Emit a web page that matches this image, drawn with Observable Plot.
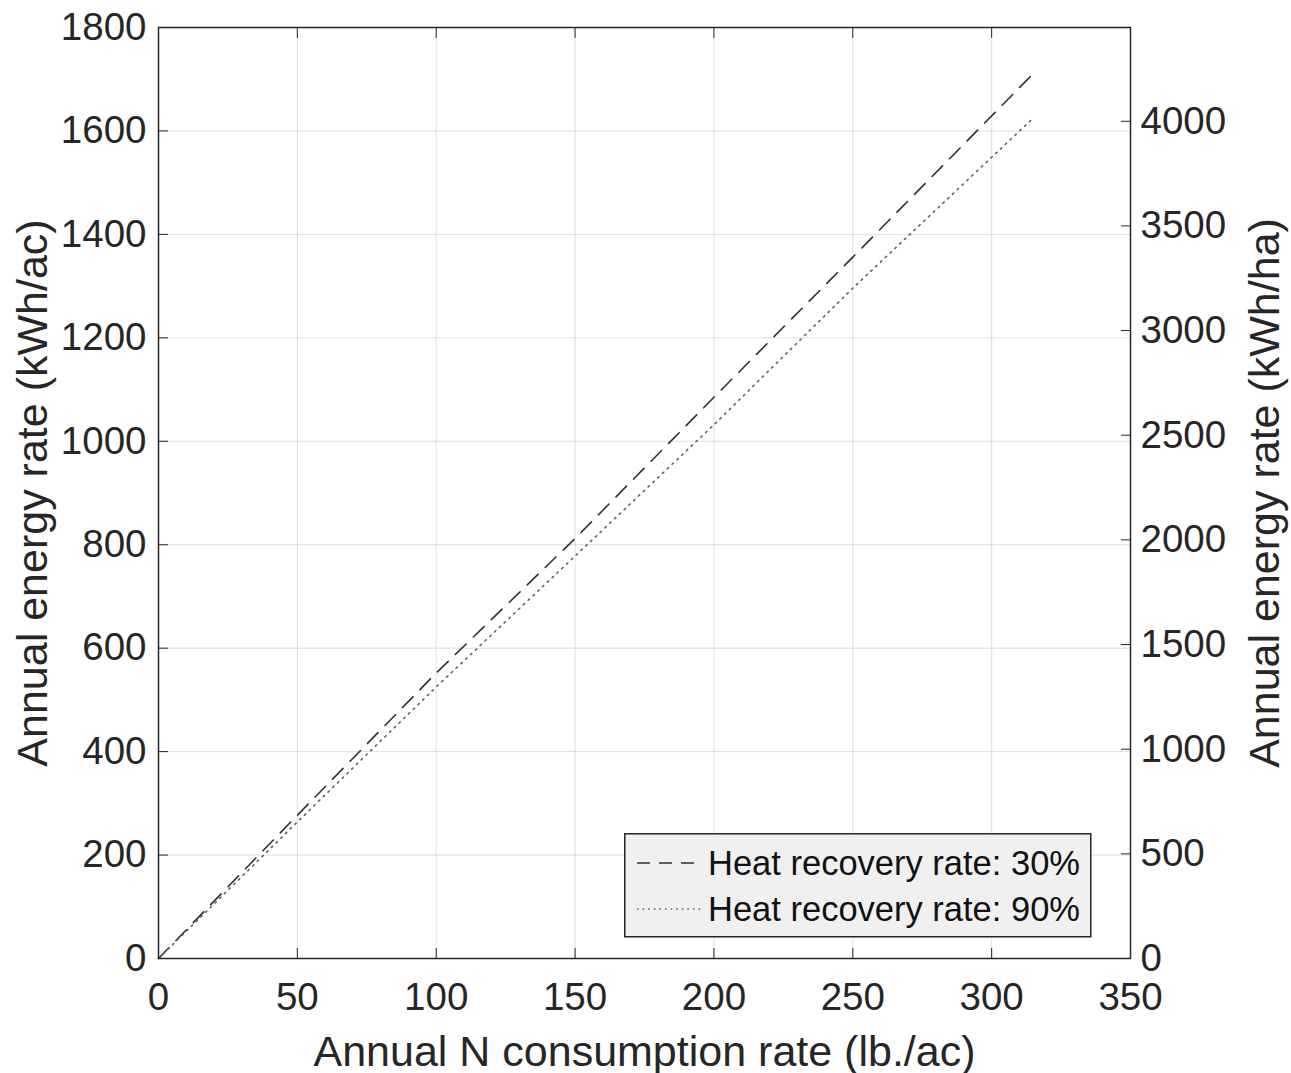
<!DOCTYPE html>
<html><head><meta charset="utf-8">
<script src="https://cdn.jsdelivr.net/npm/d3@7"></script>
<script src="https://cdn.jsdelivr.net/npm/@observablehq/plot@0.6"></script>
<style>
body{margin:0;background:#fff;}
#wrap{position:relative;width:1291px;height:1073px;}
#legend{position:absolute;left:624px;top:833px;}
</style></head><body><div id="wrap"></div>
<script>
// Data
const nRate    = [0, 50, 100, 150, 200, 250, 315];          // lb./ac
const energy30 = [0, 277, 552, 812, 1085, 1356, 1711];      // kWh/ac, heat recovery 30%
const energy90 = [0, 264, 525, 778, 1032, 1296, 1625];      // kWh/ac, heat recovery 90%
const seriesNames = ["Heat recovery rate: 30%", "Heat recovery rate: 90%"];
const xTicks = [0, 50, 100, 150, 200, 250, 300, 350];
const yTicksLeft = [0, 200, 400, 600, 800, 1000, 1200, 1400, 1600, 1800];
const yTicksRight = [0, 500, 1000, 1500, 2000, 2500, 3000, 3500, 4000];
const haPerAc = 2.4711; // kWh/ac -> kWh/ha

const data30 = nRate.map((x, i) => ({x, y: energy30[i]}));
const data90 = nRate.map((x, i) => ({x, y: energy90[i]}));

const ink = "#262626";
const font = "'Liberation Sans', Arial, Helvetica, sans-serif";

const chart = Plot.plot({
  width: 1291,
  height: 1073,
  marginLeft: 158,
  marginRight: 161,
  marginTop: 27,
  marginBottom: 115,
  style: {fontFamily: font, fontSize: "38.5px", color: ink, background: "#fff"},
  x: {domain: [0, 350]},
  y: {domain: [0, 1800]},
  marks: [
    Plot.gridX(xTicks, {stroke: ink, strokeOpacity: 0.15, strokeWidth: 1}),
    Plot.gridY(yTicksLeft, {stroke: ink, strokeOpacity: 0.15, strokeWidth: 1}),
    Plot.line(data30, {x: "x", y: "y", stroke: "#303030", strokeWidth: 1.6, strokeDasharray: "15,10"}),
    Plot.line(data90, {x: "x", y: "y", stroke: "#606060", strokeWidth: 1.6, strokeDasharray: "1.6,5"}),
    Plot.frame({stroke: ink, strokeWidth: 1.5}),
    Plot.axisX(xTicks, {anchor: "bottom", tickSize: -10, tickPadding: 34, stroke: ink, fill: ink,
      tickFormat: d => String(d), label: null}),
    Plot.axisX({anchor: "bottom", ticks: [], tickSize: 0, fontSize: 43, fill: ink,
      label: "Annual N consumption rate (lb./ac)", labelAnchor: "center", labelOffset: 107, labelArrow: "none"}),
    Plot.axisX(xTicks, {anchor: "top", tickSize: -10, tickFormat: () => "", stroke: ink, label: null}),
    Plot.axisY(yTicksLeft, {anchor: "left", tickSize: -10, tickPadding: 22, stroke: ink, fill: ink,
      tickFormat: d => String(d), label: null}),
    Plot.axisY({anchor: "left", ticks: [], tickSize: 0, fontSize: 43, fill: ink,
      label: "Annual energy rate (kWh/ac)", labelAnchor: "center", labelOffset: 142, labelArrow: "none"}),
    Plot.axisY(yTicksRight.map(v => v / haPerAc), {anchor: "right", tickSize: -10, tickPadding: 20,
      tickFormat: d => String(Math.round(d * haPerAc)), stroke: ink, fill: ink, label: null}),
    Plot.axisY({anchor: "right", ticks: [], tickSize: 0, fontSize: 43, fill: ink,
      label: "Annual energy rate (kWh/ha)", labelAnchor: "center", labelOffset: 148, labelArrow: "none"})
  ]
});
const wrap = document.getElementById("wrap");
wrap.appendChild(chart);

// Legend (inside the axes, lower right)
const ns = "http://www.w3.org/2000/svg";
const lg = document.createElementNS(ns, "svg");
lg.setAttribute("id", "legend");
lg.setAttribute("width", 468);
lg.setAttribute("height", 105);
lg.style.fontFamily = font;
const box = document.createElementNS(ns, "rect");
box.setAttribute("x", 0.75); box.setAttribute("y", 0.75);
box.setAttribute("width", 466); box.setAttribute("height", 103);
box.setAttribute("fill", "#f0f0f0"); box.setAttribute("stroke", ink); box.setAttribute("stroke-width", 1.5);
lg.appendChild(box);
const styles = [{stroke: "#303030", dash: "13,9"}, {stroke: "#606060", dash: "1.6,4"}];
seriesNames.forEach((name, i) => {
  const cy = 30 + i * 46;
  const ln = document.createElementNS(ns, "line");
  ln.setAttribute("x1", 13); ln.setAttribute("x2", 78);
  ln.setAttribute("y1", cy); ln.setAttribute("y2", cy);
  ln.setAttribute("stroke", styles[i].stroke); ln.setAttribute("stroke-width", 1.6);
  ln.setAttribute("stroke-dasharray", styles[i].dash);
  lg.appendChild(ln);
  const t = document.createElementNS(ns, "text");
  t.setAttribute("x", 84); t.setAttribute("y", cy + 12);
  t.setAttribute("font-size", 34.5); t.setAttribute("fill", "#111");
  t.textContent = name;
  lg.appendChild(t);
});
wrap.appendChild(lg);
</script></body></html>
